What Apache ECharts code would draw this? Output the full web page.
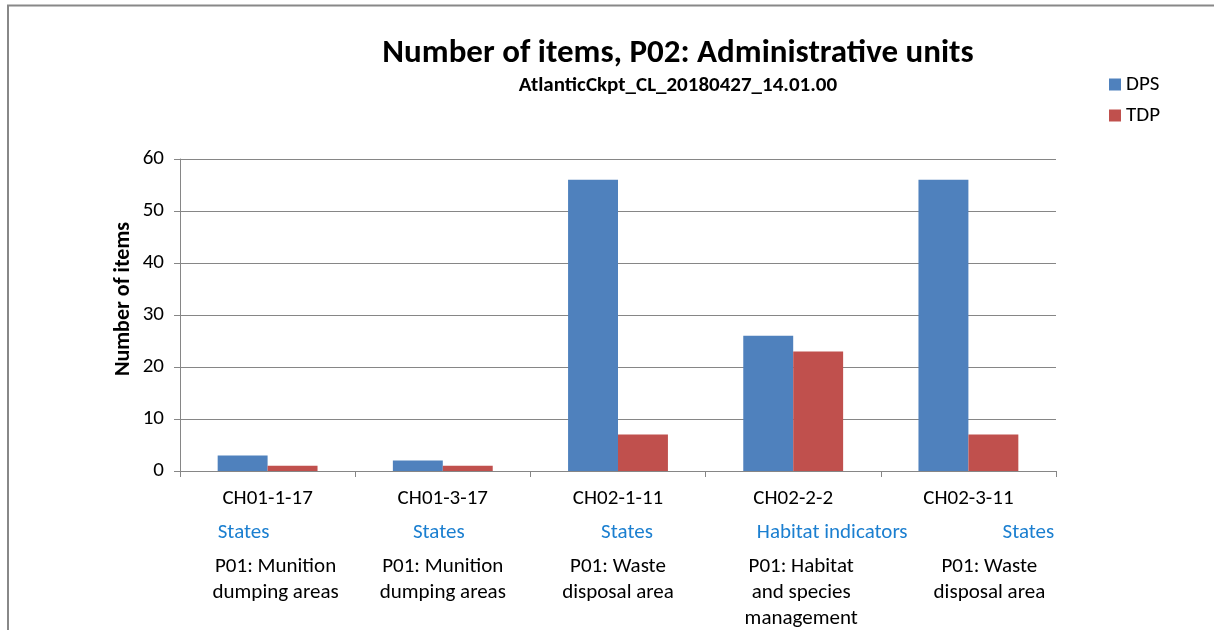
<!DOCTYPE html>
<html><head><meta charset="utf-8">
<script src="https://cdn.jsdelivr.net/npm/echarts@6/dist/echarts.min.js"></script>
<style>html,body{margin:0;padding:0;background:#fff}#c{width:1214px;height:630px}</style>
</head><body><div id="c"></div>
<script>
const categories = ['CH01-1-17','CH01-3-17','CH02-1-11','CH02-2-2','CH02-3-11'];
const groups = ['States','States','States','Habitat indicators','States'];
const descriptions = ['P01: Munition\ndumping areas','P01: Munition\ndumping areas','P01: Waste\ndisposal area','P01: Habitat\nand species\nmanagement','P01: Waste\ndisposal area'];
const dps = [3, 2, 56, 26, 56];
const tdp = [1, 1, 7, 23, 7];
const yTicks = [0, 10, 20, 30, 40, 50, 60];

const FONT = 'Carlito, Lato, "Open Sans", sans-serif';
// label line offsets (px) relative to category centre, layout only
const grpShift = [-24, -4, 9, 39, 60];
const descShift = [8, 0, 0, 8, 21];

const rich = {
  cat: {fontFamily: FONT, fontSize: 21, color: '#000', lineHeight: 26}
};
categories.forEach((c, i) => {
  const g = grpShift[i], d = descShift[i];
  rich['g' + i] = {fontFamily: FONT, fontSize: 21, color: '#1b7fd0', lineHeight: 42,
    padding: g >= 0 ? [0, 0, 0, 2 * g] : [0, -2 * g, 0, 0]};
  rich['d' + i] = {fontFamily: FONT, fontSize: 21, color: '#000', lineHeight: 26,
    padding: d >= 0 ? [0, 0, 0, 2 * d] : [0, -2 * d, 0, 0]};
});

const chart = echarts.init(document.getElementById('c'));
chart.setOption({
  animation: false,
  backgroundColor: '#fff',
  textStyle: {fontFamily: FONT},
  title: {
    text: 'Number of items, P02: Administrative units',
    subtext: 'AtlanticCkpt_CL_20180427_14.01.00',
    left: 673, top: 31, textAlign: 'center', itemGap: 3,
    textStyle: {fontFamily: FONT, fontSize: 33, fontWeight: 'bold', color: '#000', lineHeight: 36},
    subtextStyle: {fontFamily: FONT, fontSize: 21, fontWeight: 'bold', color: '#000', lineHeight: 22}
  },
  legend: {
    orient: 'vertical', left: 1104, top: 69, itemWidth: 12, itemHeight: 12, itemGap: 10,
    icon: 'rect',
    textStyle: {fontFamily: FONT, fontSize: 21, color: '#000', lineHeight: 21},
    data: ['DPS', 'TDP']
  },
  grid: {left: 180, right: 158, top: 159, bottom: 159, containLabel: false},
  xAxis: {
    type: 'category', data: categories,
    axisLine: {lineStyle: {color: '#868686', width: 1}},
    axisTick: {show: true, length: 6, lineStyle: {color: '#868686'}},
    axisLabel: {
      margin: 15, interval: 0,
      formatter: (v) => {
        const idx = categories.indexOf(v);
        const lines = descriptions[idx].split('\n').map(s => `{d${idx}|${s}}`).join('\n');
        return `{cat|${v}}\n{g${idx}|${groups[idx]}}\n${lines}`;
      },
      rich: rich
    }
  },
  yAxis: {
    type: 'value', min: yTicks[0], max: yTicks[yTicks.length - 1], interval: 10,
    axisLine: {show: true, lineStyle: {color: '#868686'}},
    axisTick: {show: true, length: 6, lineStyle: {color: '#868686'}},
    axisLabel: {fontFamily: FONT, fontSize: 21, color: '#000', margin: 16},
    splitLine: {lineStyle: {color: '#868686', width: 1}}
  },
  series: [
    {name: 'DPS', type: 'bar', data: dps, barGap: '0%', barCategoryGap: '43%',
     itemStyle: {color: '#4f81bd'}},
    {name: 'TDP', type: 'bar', data: tdp, barGap: '0%', barCategoryGap: '43%',
     itemStyle: {color: '#c0504d'}}
  ],
  graphic: [
    {type: 'rect', shape: {x: 8, y: 5.5, width: 1400, height: 800},
     style: {fill: 'none', stroke: '#888', lineWidth: 2}, silent: true},
    {type: 'text', x: 123, y: 299, rotation: Math.PI / 2,
     style: {text: 'Number of items', fontFamily: FONT, fontSize: 22, fontWeight: 'bold',
       fill: '#000', align: 'center', verticalAlign: 'middle'}}
  ]
});
</script></body></html>
